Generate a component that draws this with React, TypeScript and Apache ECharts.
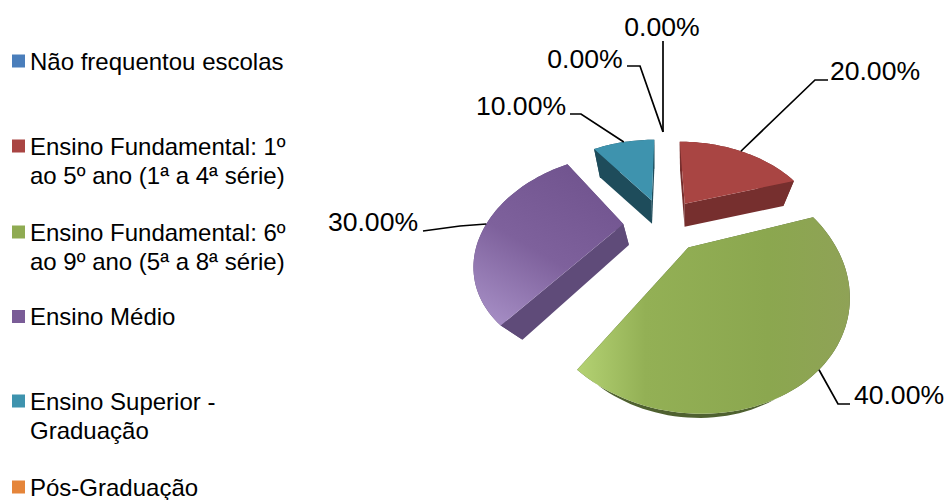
import React, { useEffect, useRef } from "react";
import * as echarts from "echarts";

const categories = [
  "Não frequentou escolas",
  "Ensino Fundamental: 1º ao 5º ano (1ª a 4ª série)",
  "Ensino Fundamental: 6º ao 9º ano (5ª a 8ª série)",
  "Ensino Médio",
  "Ensino Superior - Graduação",
  "Pós-Graduação",
];
const legendLines = [
  "Não frequentou escolas",
  "Ensino Fundamental: 1º\nao 5º ano (1ª a 4ª série)",
  "Ensino Fundamental: 6º\nao 9º ano (5ª a 8ª série)",
  "Ensino Médio",
  "Ensino Superior -\nGraduação",
  "Pós-Graduação",
];
const values = [0, 20, 40, 30, 10, 0];
const legendColors = ["#4A7EBB", "#A94543", "#8FAB52", "#7A5C97", "#3E93AE", "#E5853A"];
const wallColors = ["#2F4F75", "#762F2E", "#4F6130", "#5F4B79", "#1E4C5B", "#9A5A25"];

const FONT = "Liberation Sans";
const CX = 663, CY = 224, R = 137, T = 93, P = 0.32, EXPLODE = 0.29;
const vanishX = [683, 683, 683, 683, 655, 683];
const VANISH_Y = 445;

function project(x: number, y: number): [number, number] {
  const w = 1 - P * y;
  return [CX + (R * x) / w, CY + (T * y) / w];
}
function toBottom(p: [number, number], y: number, i: number): [number, number] {
  const f = 0.095 + 0.03 * Math.max(0, y);
  return [p[0] + (vanishX[i] - p[0]) * f, p[1] + (VANISH_Y - p[1]) * f];
}

const total = values.reduce((a, b) => a + b, 0);
const starts: number[] = [];
values.reduce((acc, v, i) => {
  starts[i] = acc;
  return acc + v;
}, 0);

function topGradient(i: number) {
  if (i === 3)
    return new echarts.graphic.LinearGradient(0.75, 0, 0.2, 1, [
      { offset: 0, color: "#70538E" },
      { offset: 0.55, color: "#7E619C" },
      { offset: 1, color: "#A48CC3" },
    ]);
  if (i === 2)
    return new echarts.graphic.LinearGradient(0, 0, 1, 0, [
      { offset: 0, color: "#B4D273" },
      { offset: 0.25, color: "#93B055" },
      { offset: 0.7, color: "#8BA74F" },
      { offset: 1, color: "#8FA256" },
    ]);
  return legendColors[i];
}

const leaderBends: number[][][] = [
  [[640, 66], [627, 66]],
  [[815, 80], [828, 80]],
  [[838, 404], [850, 404]],
  [[460, 226], [423, 231]],
  [[581, 114], [570, 114]],
  [[663, 41]],
];
const labelAnchors: number[][] = [
  [585, 59],
  [875, 71],
  [899, 395],
  [373, 222],
  [521, 106],
  [662, 27],
];
const legendTops = [46.5, 131.5, 217.5, 302, 386.5, 472.5];

function renderWedge(i: number) {
  return () => {
    const a0 = (starts[i] / total) * Math.PI * 2;
    const a1 = ((starts[i] + values[i]) / total) * Math.PI * 2;
    const mid = (a0 + a1) / 2;
    const children: any[] = [];
    const ox = values[i] > 0 ? EXPLODE * Math.sin(mid) : 0;
    const oy = values[i] > 0 ? -EXPLODE * Math.cos(mid) : 0;
    if (values[i] > 0) {
      const n = Math.max(8, Math.round((a1 - a0) * 30));
      const top: [number, number][] = [];
      const bot: [number, number][] = [];
      for (let k = 0; k <= n; k++) {
        const a = a0 + ((a1 - a0) * k) / n;
        const x = Math.sin(a) + ox;
        const y = -Math.cos(a) + oy;
        const p = project(x, y);
        top.push(p);
        bot.push(toBottom(p, y, i));
      }
      const apex = project(ox, oy);
      const apexB = toBottom(apex, oy, i);
      const wall = { fill: wallColors[i] };
      children.push({ type: "polygon", shape: { points: [...top, ...bot.slice().reverse()] }, style: wall });
      children.push({ type: "polygon", shape: { points: [apex, top[0], bot[0], apexB] }, style: wall });
      children.push({ type: "polygon", shape: { points: [apex, top[n], bot[n], apexB] }, style: wall });
      children.push({ type: "polygon", shape: { points: [apex, ...top] }, style: { fill: topGradient(i) } });
    }
    const rim = values[i] > 0 ? 1 : 1.45;
    const start = project(Math.sin(mid) * rim + ox, -Math.cos(mid) * rim + oy);
    children.push({
      type: "polyline",
      shape: { points: [start, ...leaderBends[i]] },
      style: { stroke: "#000", lineWidth: 1.7, fill: "none" },
      z2: 5,
    });
    children.push({
      type: "text",
      style: {
        text: `${values[i].toFixed(2)}%`,
        x: labelAnchors[i][0],
        y: labelAnchors[i][1],
        fontSize: 26.6,
        fontFamily: FONT,
        fill: "#000",
        align: "center",
        verticalAlign: "middle",
      },
      z2: 6,
    });
    return { type: "group", children };
  };
}

function legendIcon(twoLine: boolean) {
  return twoLine ? "path://M0 8H13V21H0Z M0 0L0 0Z M0 58L0 58Z" : "rect";
}

export default function App() {
  const ref = useRef<HTMLDivElement>(null);
  useEffect(() => {
    const chart = echarts.init(ref.current!, undefined, { renderer: "svg" });
    chart.setOption({
      animation: false,
      backgroundColor: "#fff",
      legend: categories.map((name, i) => {
        const twoLine = legendLines[i].includes("\n");
        return {
          data: [name],
          left: 12,
          top: legendTops[i],
          padding: 0,
          selectedMode: false,
          itemWidth: 13,
          itemHeight: twoLine ? 58 : 13,
          icon: legendIcon(twoLine),
          formatter: () => legendLines[i],
          textStyle: { fontFamily: FONT, fontSize: 24, lineHeight: 29, color: "#000", padding: 0 },
        };
      }),
      series: categories.map((name, i) => ({
        type: "custom",
        name,
        coordinateSystem: "none",
        silent: true,
        itemStyle: { color: legendColors[i] },
        data: [[values[i]]],
        renderItem: renderWedge(i),
      })),
    });
    return () => chart.dispose();
  }, []);
  return <div ref={ref} style={{ position: "absolute", left: 0, top: 0, width: 947, height: 500 }} />;
}
